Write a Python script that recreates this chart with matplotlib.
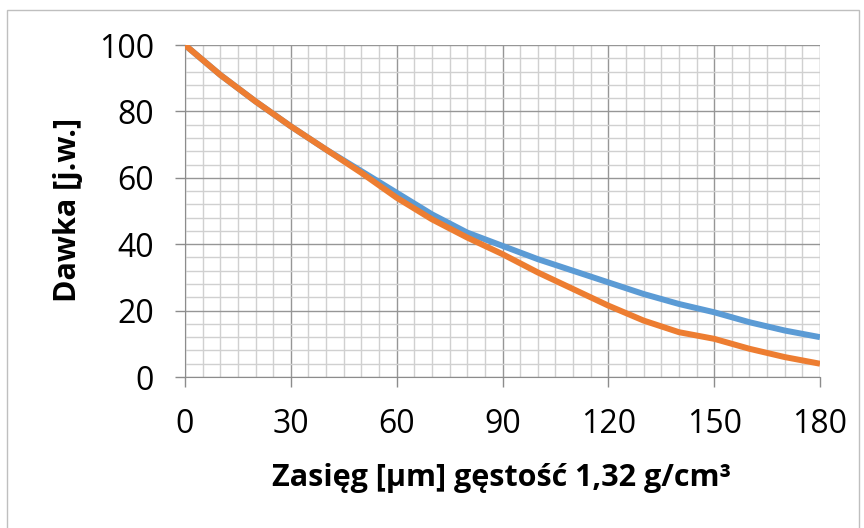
import matplotlib
matplotlib.use("Agg")
import matplotlib.pyplot as plt
from matplotlib.patches import Rectangle
from matplotlib.ticker import MultipleLocator

x = [0, 10, 20, 30, 40, 50, 60, 70, 80, 90, 100, 110, 120, 130, 140, 150, 160, 170, 180]
blue = [100, 91, 83, 75.5, 68.5, 62, 55.5, 49, 43.5, 39.5, 35.5, 32, 28.5, 25, 22, 19.5, 16.5, 14, 12]
orange = [100, 91, 83, 75.5, 68.5, 61.5, 54, 47.5, 42, 37, 31.5, 26.5, 21.5, 17, 13.5, 11.5, 8.5, 6, 4]

xlabel = "Zasięg [µm] gęstość 1,32 g/cm³"
ylabel = "Dawka [j.w.]"

plt.rcParams['font.family'] = ['Open Sans', 'DejaVu Sans']

fig = plt.figure(figsize=(8.64, 5.28), dpi=100)
ax = fig.add_axes([185/864, 1-377/528, 635/864, 332/528])

ax.plot(x, blue, color='#5B9BD5', lw=4.3, solid_capstyle='butt', zorder=3)
ax.plot(x, orange, color='#ED7D31', lw=4.3, solid_capstyle='butt', zorder=4)

ax.set_xlim(0, 180)
ax.set_ylim(0, 100)
ax.xaxis.set_major_locator(MultipleLocator(30))
ax.xaxis.set_minor_locator(MultipleLocator(5))
ax.yaxis.set_major_locator(MultipleLocator(20))
ax.yaxis.set_minor_locator(MultipleLocator(4))
ax.grid(which='major', color='#969696', lw=1.0)
ax.grid(which='minor', color='#d0d0d0', lw=1.0)
ax.set_axisbelow(True)
for s in ['top', 'right']:
    ax.spines[s].set_visible(False)
for s in ['left', 'bottom']:
    ax.spines[s].set_color('#8c8c8c')
ax.tick_params(which='major', length=7.5, width=1.0, color='#8c8c8c',
               direction='out', labelsize=23, pad=15)
ax.tick_params(which='minor', length=0)

fig.text(502/864, 1-478/528, xlabel, fontsize=22, fontweight='bold',
         ha='center', va='center')
fig.text(68/864, 1-210/528, ylabel, fontsize=22, fontweight='bold',
         ha='center', va='center', rotation=90)

fig.patches.append(Rectangle((7/864, -10/528), 852/864, 528/528, transform=fig.transFigure,
                             fill=False, edgecolor='#bfbfbf', lw=1.0))

fig.savefig("out.png", dpi=100)
